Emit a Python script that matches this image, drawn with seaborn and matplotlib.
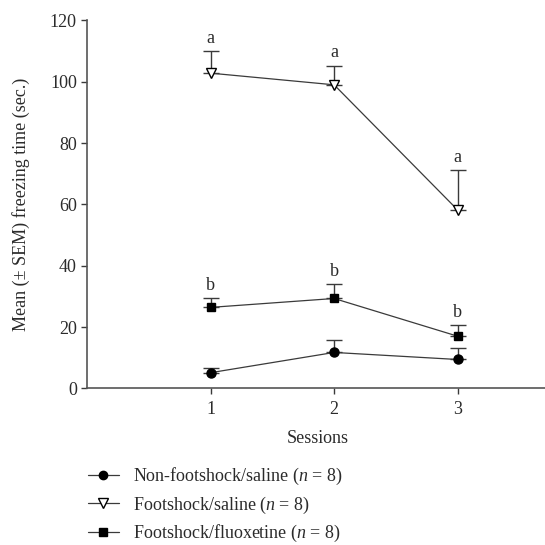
import numpy as np
import pandas as pd
import matplotlib
matplotlib.use("Agg")
import matplotlib.pyplot as plt
import seaborn as sns
from matplotlib.lines import Line2D

sessions = [1, 2, 3]
groups = ["Non-footshock/saline", "Footshock/saline", "Footshock/fluoxetine"]
legend_labels = [
    "Non-footshock/saline ($n$ = 8)",
    "Footshock/saline ($n$ = 8)",
    "Footshock/fluoxetine ($n$ = 8)",
]
mean_nonshock = [5.1, 11.7, 9.4]
sem_nonshock = [1.4, 4.0, 3.9]
mean_shock_saline = [102.8, 99.0, 58.2]
sem_shock_saline = [7.2, 6.3, 12.9]
mean_shock_fluox = [26.4, 29.3, 17.0]
sem_shock_fluox = [2.9, 4.6, 3.6]
letters_saline = ["a", "a", "a"]
letters_fluox = ["b", "b", "b"]

df = pd.DataFrame({
    "Sessions": sessions * 3,
    "group": np.repeat(groups, 3),
    "mean": mean_nonshock + mean_shock_saline + mean_shock_fluox,
    "sem": sem_nonshock + sem_shock_saline + sem_shock_fluox,
})

sns.set_style("ticks")
plt.rcParams["font.family"] = ["Liberation Serif", "DejaVu Serif"]
plt.rcParams["mathtext.fontset"] = "custom"
plt.rcParams["mathtext.it"] = "Liberation Serif:italic"
plt.rcParams["mathtext.rm"] = "Liberation Serif"

text_col = "#2b2b2b"
line_col = "#3a3a3a"
fs = 13
markers = {"Non-footshock/saline": "o", "Footshock/saline": "v", "Footshock/fluoxetine": "s"}
faces = {"Non-footshock/saline": "black", "Footshock/saline": "white", "Footshock/fluoxetine": "black"}
msizes = {"Non-footshock/saline": 6.5, "Footshock/saline": 7.5, "Footshock/fluoxetine": 6.2}

fig = plt.figure(figsize=(5.45, 5.45), dpi=100)
ax = fig.add_axes([0.16, 0.2875, 0.845, 0.675])

for g in groups:
    d = df[df["group"] == g]
    ax.errorbar(d["Sessions"], d["mean"], yerr=[np.zeros(len(d)), d["sem"]],
                fmt="none", ecolor=line_col, elinewidth=1.0, capsize=5.5,
                capthick=1.0, zorder=2)
    sns.lineplot(x=d["Sessions"].values, y=d["mean"].values, ax=ax, color=line_col,
                 linewidth=0.9, marker=markers[g], markersize=msizes[g],
                 markerfacecolor=faces[g], markeredgecolor="black",
                 markeredgewidth=1.0, zorder=3, legend=False)

for i, s in enumerate(sessions):
    ax.annotate(letters_saline[i], (s, mean_shock_saline[i] + sem_shock_saline[i]),
                xytext=(0, 3), textcoords="offset points", ha="center", va="bottom",
                fontsize=fs, color=text_col)
    ax.annotate(letters_fluox[i], (s, mean_shock_fluox[i] + sem_shock_fluox[i]),
                xytext=(0, 3), textcoords="offset points", ha="center", va="bottom",
                fontsize=fs, color=text_col)

ax.set_xlim(0, 3.73)
ax.set_ylim(0, 120)
ax.set_xticks(sessions)
ax.set_yticks(range(0, 121, 20))
ax.tick_params(colors=line_col, labelcolor=text_col, labelsize=fs, length=4, width=1)
ax.tick_params(axis="x", pad=5)
for sp in ["top", "right"]:
    ax.spines[sp].set_visible(False)
for sp in ["left", "bottom"]:
    ax.spines[sp].set_color("#555555")
    ax.spines[sp].set_linewidth(1.2)
ax.set_xlabel("Sessions", fontsize=fs, color=text_col, labelpad=9)
ax.set_ylabel("Mean (± SEM) freezing time (sec.)", fontsize=fs, color=text_col)
ax.yaxis.set_label_coords(-0.125, 0.5)

handles = [
    Line2D([], [], color=line_col, linewidth=0.9, marker=markers[g], markersize=msizes[g] - 0.5,
           markerfacecolor=faces[g], markeredgecolor="black")
    for g in groups
]
fig.legend(handles, legend_labels, loc="upper left", bbox_to_anchor=(0.148, 0.158),
           frameon=False, fontsize=fs, labelcolor=text_col, handlelength=1.7,
           handletextpad=0.8, labelspacing=0.4, borderaxespad=0)

fig.savefig("out.png", dpi=100)
